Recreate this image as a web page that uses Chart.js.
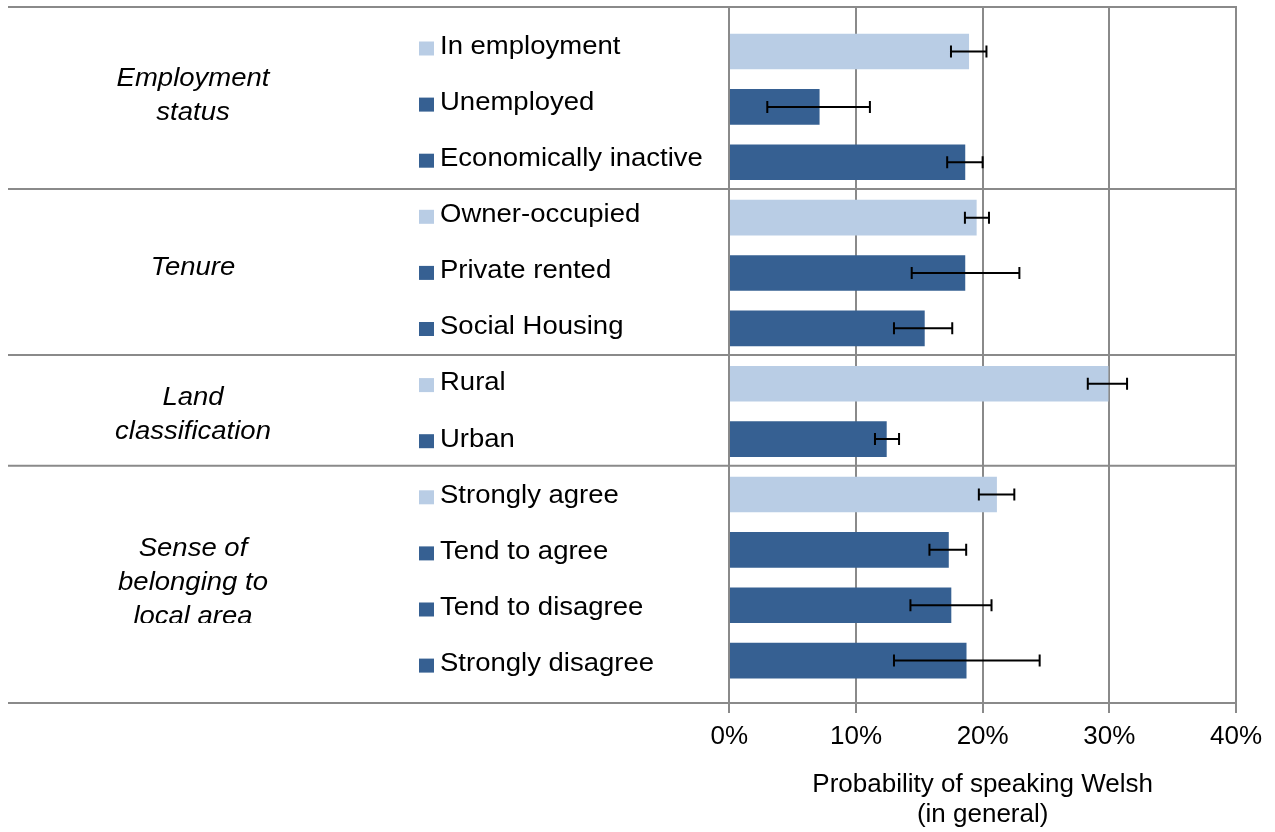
<!DOCTYPE html>
<html>
<head>
<meta charset="utf-8">
<script src="https://cdn.jsdelivr.net/npm/chart.js@4.4.1/dist/chart.umd.min.js"></script>
<style>
  html, body { margin: 0; padding: 0; background: #ffffff; }
  canvas { display: block; }
</style>
</head>
<body>
<canvas id="welshChart" width="1275" height="832"></canvas>
<script>
// Data
const categories = ['In employment', 'Unemployed', 'Economically inactive',
    'Owner-occupied', 'Private rented', 'Social Housing',
    'Rural', 'Urban',
    'Strongly agree', 'Tend to agree', 'Tend to disagree', 'Strongly disagree'];
const probability = [18.9, 7.1, 18.6, 19.5, 18.6, 15.4, 29.9, 12.4, 21.1, 17.3, 17.5, 18.7];
const ciLower = [17.5, 3.0, 17.2, 18.6, 14.4, 13.0, 28.3, 11.5, 19.7, 15.8, 14.3, 13.0];
const ciUpper = [20.3, 11.1, 20.0, 20.5, 22.9, 17.6, 31.4, 13.4, 22.5, 18.7, 20.7, 24.5];
const groupTitles = [['Employment', 'status'], ['Tenure'], ['Land', 'classification'], ['Sense of', 'belonging to', 'local area']];
const groupSizes = [3, 3, 2, 4];
const xTickValues = [0, 10, 20, 30, 40];

// Style
const LIGHT = '#B9CDE5';
const DARK = '#366092';
const GRID = '#8a8a8a';
const FONT = "'Liberation Sans', Arial, sans-serif";
const TEXT_SX = 1.1;          // source picture is a little wider than tall
const LABEL_TOP = 47.5;       // category labels sit on their own grid
const LABEL_STEP = 56.1;
const groupShift = [-1, 3, 10, 10];

Chart.defaults.font.family = FONT;
Chart.defaults.color = '#000';

// first item of every group is drawn light
const groupStarts = [];
let n = 0;
groupSizes.forEach(s => { groupStarts.push(n); n += s; });
const barColors = categories.map((c, i) => groupStarts.includes(i) ? LIGHT : DARK);

function stretchText(ctx, str, x, y, align) {
    ctx.save();
    ctx.translate(x, y);
    ctx.scale(TEXT_SX, 1);
    ctx.textAlign = align;
    ctx.fillText(str, 0, 0);
    ctx.restore();
}

const decorPlugin = {
    id: 'decor',
    beforeDatasetsDraw(chart) {
        const { ctx, chartArea, scales } = chart;
        const ys = [chartArea.top, chartArea.bottom];
        groupStarts.slice(1).forEach(s => ys.push(scales.y.getPixelForValue(s - 0.5) - 1));
        ctx.save();
        ctx.strokeStyle = GRID;
        ctx.lineWidth = 2;
        ys.forEach(y => {
            ctx.beginPath();
            ctx.moveTo(8, y);
            ctx.lineTo(chartArea.right + 1, y);
            ctx.stroke();
        });
        ctx.restore();
    },
    afterDatasetsDraw(chart) {
        const { ctx, scales } = chart;
        const bars = chart.getDatasetMeta(0).data;

        // error bars
        ctx.save();
        ctx.strokeStyle = '#000';
        ctx.lineWidth = 2;
        bars.forEach((bar, i) => {
            const x1 = scales.x.getPixelForValue(ciLower[i]);
            const x2 = scales.x.getPixelForValue(ciUpper[i]);
            const y = bar.y;
            ctx.beginPath();
            ctx.moveTo(x1, y); ctx.lineTo(x2, y);
            ctx.moveTo(x1, y - 6); ctx.lineTo(x1, y + 6);
            ctx.moveTo(x2, y - 6); ctx.lineTo(x2, y + 6);
            ctx.stroke();
        });
        ctx.restore();

        // category labels with colour keys
        ctx.save();
        ctx.fillStyle = '#000';
        ctx.font = '25px ' + FONT;
        ctx.textBaseline = 'middle';
        categories.forEach((label, i) => {
            const yc = LABEL_TOP + i * LABEL_STEP;
            ctx.fillStyle = barColors[i];
            ctx.fillRect(419, yc - 6, 15, 14);
            ctx.fillStyle = '#000';
            stretchText(ctx, label, 440, yc - 0.5, 'left');
        });
        ctx.restore();

        // group titles (italic), the last one is cut off like in the source
        ctx.save();
        ctx.beginPath();
        ctx.rect(0, 0, 415, 623);
        ctx.clip();
        ctx.fillStyle = '#000';
        ctx.font = 'italic 25px ' + FONT;
        ctx.textBaseline = 'alphabetic';
        groupTitles.forEach((lines, g) => {
            const first = groupStarts[g];
            const last = first + groupSizes[g] - 1;
            const mid = LABEL_TOP + (first + last) / 2 * LABEL_STEP + groupShift[g];
            lines.forEach((t, j) => {
                stretchText(ctx, t, 193, mid + (j - (lines.length - 1) / 2) * 34, 'center');
            });
        });
        ctx.restore();
    }
};

const ctx = document.getElementById('welshChart').getContext('2d');
const welshChart = new Chart(ctx, {
    type: 'bar',
    data: {
        datasets: [{
            data: probability.map((v, i) => ({ x: v, y: i })),
            backgroundColor: barColors,
            borderWidth: 0,
            barThickness: 35
        }]
    },
    options: {
        indexAxis: 'y',
        responsive: false,
        animation: false,
        layout: {
            padding: { left: 729.3, right: 39, top: 7, bottom: 2 }
        },
        plugins: {
            legend: { display: false },
            tooltip: { enabled: false }
        },
        scales: {
            y: {
                type: 'linear',
                reverse: true,
                offset: false,
                min: -0.804,
                max: 11.766,
                display: false
            },
            x: {
                type: 'linear',
                min: 0,
                max: 40,
                afterBuildTicks: (scale) => {
                    scale.ticks = xTickValues.map(v => ({ value: v }));
                },
                grid: {
                    color: GRID,
                    lineWidth: 2,
                    drawTicks: true,
                    tickLength: 10
                },
                border: { display: false },
                ticks: {
                    color: '#000',
                    padding: 8,
                    font: { size: 26 },
                    maxRotation: 0,
                    callback: (v) => v + '%'
                },
                title: {
                    display: true,
                    text: ['Probability of speaking Welsh', '(in general)'],
                    color: '#000',
                    font: { size: 26, lineHeight: 1.15 },
                    padding: { top: 10, bottom: 0 }
                }
            }
        }
    },
    plugins: [decorPlugin]
});
</script>
</body>
</html>
